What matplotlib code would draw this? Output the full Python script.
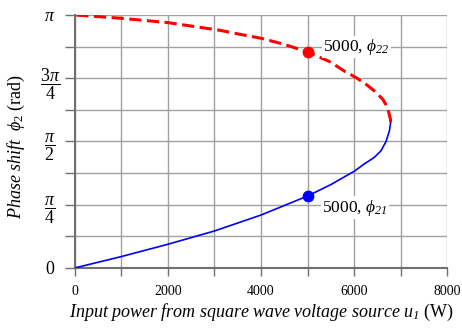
import numpy as np
import matplotlib
matplotlib.use('Agg')
import matplotlib.pyplot as plt

plt.rcParams['font.family'] = ['Liberation Serif', 'DejaVu Serif']
plt.rcParams['mathtext.fontset'] = 'custom'
plt.rcParams['mathtext.rm'] = 'Liberation Serif'
plt.rcParams['mathtext.it'] = 'Liberation Serif:italic'
plt.rcParams['mathtext.bf'] = 'Liberation Serif:bold'
# mathtext keeps digits upright in \mathit, so \mathsf is used for italic digits
plt.rcParams['mathtext.sf'] = 'Liberation Serif:italic'
plt.rcParams['mathtext.fallback'] = 'stix'

# lower branch (phi21)
power21 = [0, 1000, 2000, 3000, 4000, 5000, 5500, 6000, 6216, 6433, 6577,
           6686, 6758, 6780, 6785]
phi21 = [0.0, 0.141, 0.294, 0.459, 0.657, 0.893, 1.035, 1.200, 1.290, 1.373, 1.454,
         1.571, 1.702, 1.786, 1.810]

# upper branch (phi22)
power22 = [6785, 6780, 6740, 6680, 6614, 6433, 6253, 6037, 5784, 5496, 5000, 4487,
           4000, 3549, 3118, 2000, 1000, 0]
phi22 = [1.810, 1.848, 1.940, 2.030, 2.096, 2.199, 2.282, 2.365, 2.446, 2.556, 2.683, 2.778,
         2.852, 2.901, 2.951, 3.046, 3.100, np.pi]

# highlighted operating point
p_mark = 5000
phi21_mark = 0.893
phi22_mark = 2.683

y_labels = ['0', r'$\dfrac{\pi}{4}$', r'$\dfrac{\pi}{2}$', r'$\dfrac{3\pi}{4}$', r'$\pi$']
x_ticks = [0, 2000, 4000, 6000, 8000]

fig = plt.figure(figsize=(4.62, 3.32), dpi=100)
ax = fig.add_axes([0.162, 0.193, 0.806, 0.762])

ax.plot(power21, phi21, '-', color='#0000ff', linewidth=1.2, zorder=3)
ax.plot(power22, phi22, '--', color='#ff0000', linewidth=2.2, dashes=(4, 1.8), zorder=3)
ax.plot([p_mark], [phi22_mark], 'o', color='#ff0000', markersize=7.5, zorder=4)
ax.plot([p_mark], [phi21_mark], 'o', color='#0000ff', markersize=7.5, zorder=4)

box = dict(facecolor='white', edgecolor='none', pad=1)
ax.text(5330, 2.695, r'$5000,\,\phi_{\mathsf{22}}$', fontsize=12.5, va='baseline', ha='left', bbox=box, zorder=5)
ax.text(5320, 0.699, r'$5000,\,\phi_{\mathsf{21}}$', fontsize=12.5, va='baseline', ha='left', bbox=box, zorder=5)

ax.set_xlim(0, 8000)
ax.set_ylim(0, np.pi)
ax.set_xticks(np.arange(0, 8001, 1000))
ax.set_xticklabels([str(v) if v in x_ticks else '' for v in range(0, 8001, 1000)])
ax.set_yticks(np.arange(0, 9) * np.pi / 8)
ax.set_yticklabels([y_labels[i // 2] if i % 2 == 0 else '' for i in range(9)])

ax.grid(True, color='#a0a0a0', linewidth=1.0)
ax.set_axisbelow(True)
for side in ['top', 'right']:
    ax.spines[side].set_visible(False)
for side in ['left', 'bottom']:
    ax.spines[side].set_color('#707070')
    ax.spines[side].set_linewidth(1.5)
    ax.spines[side].set_zorder(2)

ax.tick_params(axis='x', direction='out', length=6, width=1, color='#707070', labelsize=10, pad=6)
ax.tick_params(axis='y', direction='out', length=7, width=1, color='#707070', labelsize=13, pad=11)
for lab in ax.get_yticklabels():
    lab.set_horizontalalignment('center')

ax.set_xlabel(r'$\mathit{Input\ power\ from\ square\ wave\ voltage\ source}\ u_{\mathsf{1}}$ (W)',
              fontsize=13, labelpad=3)
ax.set_ylabel(r'$\mathit{Phase\ shift}\ \ \phi_2$ (rad)', fontsize=13)
ax.yaxis.set_label_coords(-0.128, 0.48)

fig.savefig('out.png', dpi=100, facecolor='white')
